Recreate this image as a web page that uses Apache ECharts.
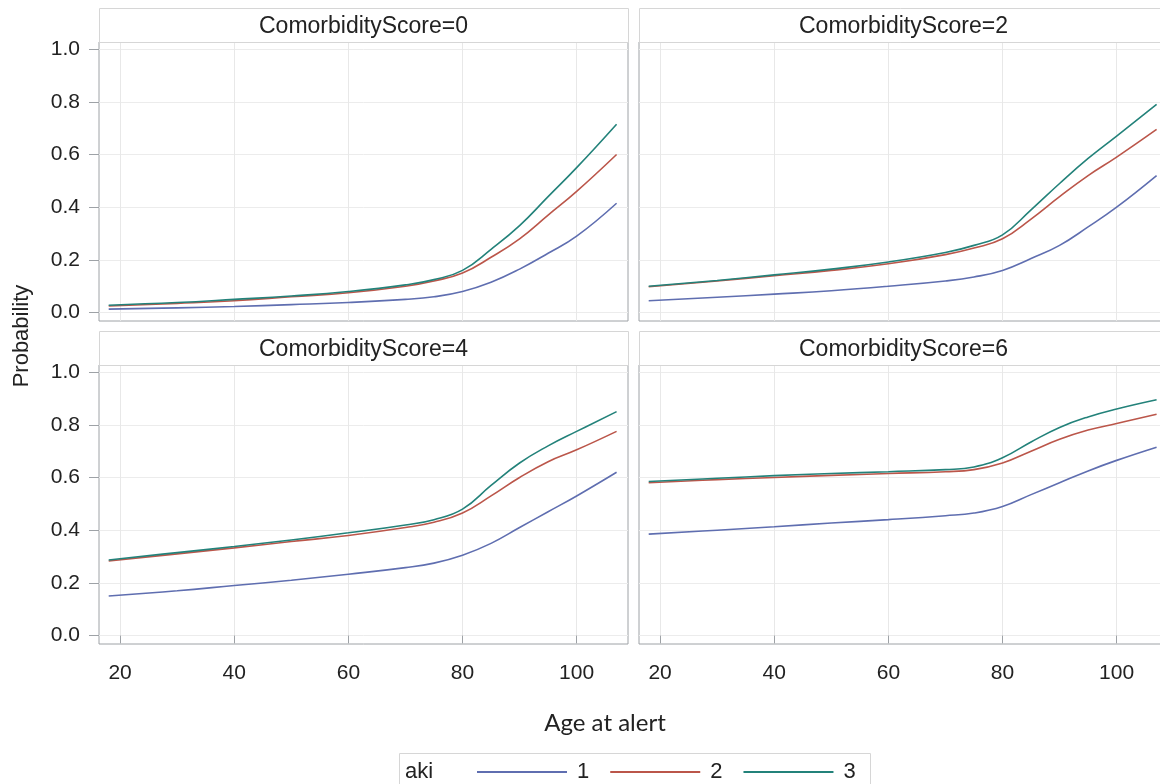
<!DOCTYPE html>
<html><head><meta charset="utf-8">
<script src="https://cdn.jsdelivr.net/npm/echarts@6/dist/echarts.min.js"></script>
<style>html,body{margin:0;padding:0;background:#fff}#c{width:1160px;height:784px}</style>
</head><body><div id="c"></div>
<script>
const ages = [18, 30, 40, 50, 60, 70, 75, 80, 85, 90, 95, 100, 107];
const panelTitles = ['ComorbidityScore=0', 'ComorbidityScore=2', 'ComorbidityScore=4', 'ComorbidityScore=6'];
const akiNames = ['1', '2', '3'];
const xTicks = [20, 40, 60, 80, 100];
const yTicks = [0, 0.2, 0.4, 0.6, 0.8, 1.0];

// CS = 0
const cs0_aki1 = [0.013, 0.018, 0.023, 0.030, 0.038, 0.050, 0.060, 0.080, 0.115, 0.165, 0.225, 0.290, 0.415];
const cs0_aki2 = [0.025, 0.035, 0.045, 0.060, 0.075, 0.100, 0.120, 0.150, 0.210, 0.280, 0.370, 0.460, 0.600];
const cs0_aki3 = [0.028, 0.038, 0.050, 0.063, 0.080, 0.105, 0.125, 0.160, 0.240, 0.330, 0.440, 0.550, 0.715];
// CS = 2
const cs2_aki1 = [0.045, 0.058, 0.070, 0.083, 0.100, 0.120, 0.135, 0.160, 0.205, 0.255, 0.325, 0.400, 0.520];
const cs2_aki2 = [0.098, 0.120, 0.140, 0.160, 0.185, 0.220, 0.245, 0.280, 0.355, 0.440, 0.520, 0.590, 0.695];
const cs2_aki3 = [0.100, 0.122, 0.143, 0.165, 0.192, 0.228, 0.255, 0.295, 0.390, 0.490, 0.585, 0.670, 0.790];
// CS = 4
const cs4_aki1 = [0.150, 0.170, 0.190, 0.210, 0.233, 0.258, 0.275, 0.305, 0.350, 0.410, 0.470, 0.530, 0.620];
const cs4_aki2 = [0.283, 0.310, 0.333, 0.357, 0.380, 0.410, 0.430, 0.465, 0.530, 0.600, 0.660, 0.705, 0.775];
const cs4_aki3 = [0.287, 0.315, 0.338, 0.363, 0.390, 0.420, 0.440, 0.480, 0.570, 0.655, 0.720, 0.775, 0.850];
// CS = 6
const cs6_aki1 = [0.385, 0.400, 0.413, 0.427, 0.440, 0.455, 0.465, 0.490, 0.535, 0.580, 0.625, 0.665, 0.715];
const cs6_aki2 = [0.580, 0.592, 0.600, 0.608, 0.615, 0.622, 0.630, 0.655, 0.700, 0.745, 0.780, 0.805, 0.840];
const cs6_aki3 = [0.585, 0.597, 0.607, 0.615, 0.622, 0.630, 0.640, 0.675, 0.735, 0.790, 0.830, 0.860, 0.895];

const panelData = [
  [cs0_aki1, cs0_aki2, cs0_aki3],
  [cs2_aki1, cs2_aki2, cs2_aki3],
  [cs4_aki1, cs4_aki2, cs4_aki3],
  [cs6_aki1, cs6_aki2, cs6_aki3]
];
const colors = ['#5f6eb0', '#bb564a', '#23827a'];

const FONT = '"Liberation Sans", Arial, sans-serif';
const LEFTS = [99, 639];
const TOPS = [42, 365];
const PW = 529, PH = 279, HEAD_H = 34;

const grids = [], xAxes = [], yAxes = [], series = [], graphics = [];
for (let p = 0; p < 4; p++) {
  const col = p % 2, row = Math.floor(p / 2);
  grids.push({left: LEFTS[col], top: TOPS[row], width: PW, height: PH, show: true,
    borderColor: '#9ea2a6', borderWidth: 1, backgroundColor: '#fff', containLabel: false,
    outerBoundsMode: 'none'});
  xAxes.push({type: 'value', gridIndex: p, min: 16.3, max: 109,
    axisLine: {show: false},
    axisTick: {show: row === 1, length: 8, lineStyle: {color: '#9ea2a6'}, customValues: xTicks},
    axisLabel: {show: row === 1, customValues: xTicks, margin: 19, fontFamily: FONT, fontSize: 21, color: '#222'},
    splitLine: {show: true, lineStyle: {color: '#e8e8e8', width: 1}}
  });
  yAxes.push({type: 'value', gridIndex: p, min: -0.032, max: 1.027,
    axisLine: {show: false},
    axisTick: {show: col === 0, length: 10, lineStyle: {color: '#9ea2a6'}, customValues: yTicks},
    axisLabel: {show: col === 0, customValues: yTicks, margin: 19, fontFamily: FONT, fontSize: 21, color: '#222',
      formatter: v => v.toFixed(1)},
    splitLine: {show: true, lineStyle: {color: '#ececec', width: 1}}
  });
  for (let k = 0; k < 3; k++) {
    series.push({type: 'line', name: akiNames[k], xAxisIndex: p, yAxisIndex: p,
      data: ages.map((a, i) => [a, panelData[p][k][i]]),
      showSymbol: false, smooth: 0.45, color: colors[k],
      lineStyle: {width: 1.6, color: colors[k]}, silent: true, z: 3 + k});
  }
  // header strip
  graphics.push({type: 'rect', shape: {x: LEFTS[col] + 0.5, y: TOPS[row] - HEAD_H + 0.5, width: PW, height: HEAD_H},
    style: {fill: '#fff', stroke: '#d6d6d6', lineWidth: 1}, z: 1});
  graphics.push({type: 'text', x: LEFTS[col] + PW / 2, y: TOPS[row] - HEAD_H / 2 + 2,
    style: {text: panelTitles[p], fontFamily: FONT, fontSize: 23, fill: '#222', align: 'center', verticalAlign: 'middle'}, z: 2});
}
// y-axis title
graphics.push({type: 'text', x: 22, y: 336, rotation: Math.PI / 2,
  style: {text: 'Probability', fontFamily: FONT, fontSize: 22, fill: '#222', align: 'center', verticalAlign: 'middle'}});
// x-axis title
graphics.push({type: 'text', x: 605, y: 723,
  style: {text: 'Age at alert', fontFamily: 'Lato, sans-serif', fontSize: 24, fill: '#222', align: 'center', verticalAlign: 'middle'}});
// legend box and title
graphics.push({type: 'rect', shape: {x: 399.5, y: 753.5, width: 471, height: 40},
  style: {fill: '#fff', stroke: '#d6d6d6', lineWidth: 1}, z: 1});
graphics.push({type: 'text', x: 405, y: 772,
  style: {text: 'aki', fontFamily: FONT, fontSize: 22, fill: '#222', align: 'left', verticalAlign: 'middle'}, z: 2});

const chart = echarts.init(document.getElementById('c'), null, {renderer: 'canvas'});
chart.setOption({
  animation: false,
  backgroundColor: '#fff',
  grid: grids, xAxis: xAxes, yAxis: yAxes, series: series,
  legend: {data: akiNames, left: 477, top: 761, icon: 'rect', itemWidth: 90, itemHeight: 2, itemGap: 21,
    textStyle: {fontFamily: FONT, fontSize: 22, color: '#222', padding: [0, 0, 0, 5]}, padding: 0, selectedMode: false, z: 5},
  graphic: graphics
});
</script></body></html>
